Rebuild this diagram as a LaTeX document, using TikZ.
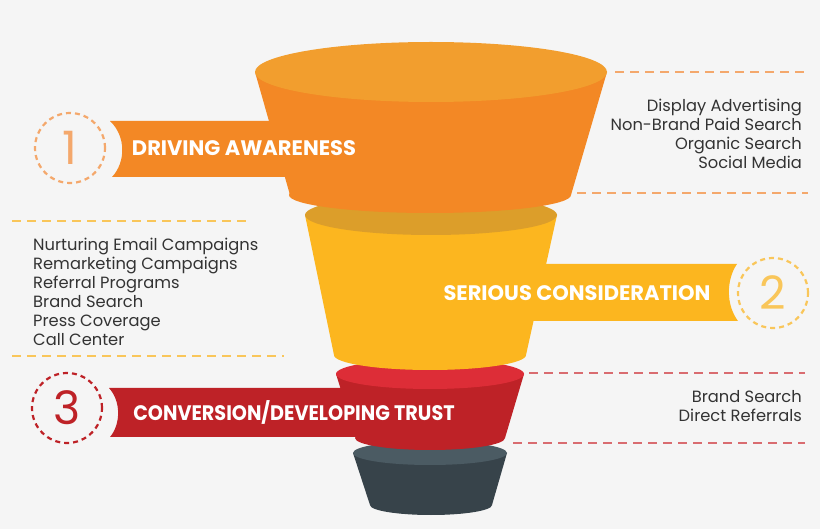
\documentclass[tikz,border=0pt]{standalone}
\usepackage{fontspec}
\setmainfont{Poppins}

\definecolor{bg}{HTML}{F5F5F5}
\definecolor{orangetop}{HTML}{F29E2E}
\definecolor{orangebody}{HTML}{F38825}
\definecolor{orangeline}{HTML}{F4A86C}
\definecolor{yellowtop}{HTML}{DC9E2A}
\definecolor{yellowbody}{HTML}{FCB61F}
\definecolor{yellowline}{HTML}{F9C65A}
\definecolor{redtop}{HTML}{DD2D37}
\definecolor{redbody}{HTML}{BE2227}
\definecolor{redline}{HTML}{D96C70}
\definecolor{graytop}{HTML}{4B5B63}
\definecolor{graybody}{HTML}{37434A}
\definecolor{textgray}{HTML}{333333}

\tikzset{
  bannertext/.style={text=white, inner sep=0pt, font=\bfseries\fontsize{21}{21}\selectfont},
  listtext/.style={text=textgray, inner sep=0pt, font=\fontsize{16.3}{19}\selectfont},
  numbercircle/.style={circle, draw, dash pattern=on 5pt off 4pt, line width=2.2pt,
    minimum size=70pt, inner sep=0pt, font=\fontsize{46}{46}\selectfont},
  guide/.style={dash pattern=on 9pt off 6pt, line width=1.3pt}
}

\begin{document}
\begin{tikzpicture}[x=1pt,y=-1pt]
  % Background
  \fill[bg] (0,0) rectangle (820,529);
  \useasboundingbox (0,0) rectangle (820,529);

  % Layer 4 (bottom)
  \fill[graybody] (353,453) -- (507,453) -- (492,505) -- (370,505) -- cycle;
  \fill[graybody] (431,505) ellipse (61pt and 10pt);
  \fill[graytop] (430,453) ellipse (77pt and 12pt);

  % Layer 3
  \fill[redbody] (109,388) -- (360,388) -- (360,437) -- (110,437)
    .. controls (121,424) and (121,401) .. (109,388);
  \fill[redbody] (336,374) -- (524,374) -- (505,438) -- (356,438) -- cycle;
  \fill[redbody] (430,438) ellipse (75pt and 12pt);
  \fill[redtop] (430,374) ellipse (94pt and 15pt);

  % Layer 2
  \fill[yellowbody] (737,264) -- (520,264) -- (520,321) -- (738,321)
    .. controls (726,305) and (726,280) .. (737,264);
  \fill[yellowbody] (305,215) -- (557,215) -- (526,355) -- (334,355) -- cycle;
  \fill[yellowbody] (430,355) ellipse (96pt and 15pt);
  \fill[yellowtop] (431,215) ellipse (126pt and 20pt);

  % Layer 1 (top)
  \fill[orangebody] (110,121) -- (300,121) -- (300,177) -- (112,177)
    .. controls (126,162) and (126,136) .. (110,121);
  \fill[orangebody] (255,72) -- (607,72) -- (571,195) -- (290,195) -- cycle;
  \fill[orangebody] (430,195) ellipse (141pt and 18pt);
  \fill[orangetop] (431,72) ellipse (176pt and 30pt);

  % Banner labels
  \node[bannertext] (awareness) at (244,148) {DRIVING AWARENESS};
  \node[bannertext] (consideration) at (577,293) {SERIOUS CONSIDERATION};
  \node[bannertext] (conversion) at (294,412) {\scalebox{0.915}[1]{CONVERSION/DEVELOPING TRUST}};

  % Step numbers
  \node[numbercircle, draw=orangeline, text=orangeline] (one) at (70,148) {1};
  \node[numbercircle, draw=yellowline, text=yellowline] (two) at (773,293) {2};
  \node[numbercircle, draw=redbody, text=redbody] (three) at (67,408) {3};

  % Guide lines
  \draw[guide, orangeline] (615,72) -- (808,72);
  \draw[guide, orangeline] (577,193) -- (808,193);
  \draw[guide, yellowline] (12,221) -- (248,221);
  \draw[guide, yellowline] (12,356) -- (284,356);
  \draw[guide, redline] (529,373) -- (805,373);
  \draw[guide, redline] (513,443) -- (805,443);

  % Channel lists
  \foreach \t [count=\i] in {Display Advertising, Non-Brand Paid Search, Organic Search, Social Media}
    \node[listtext, anchor=base east] (aware\i) at (802,93+19*\i) {\t};
  \foreach \t [count=\i] in {Nurturing Email Campaigns, Remarketing Campaigns, Referral Programs,
      Brand Search, Press Coverage, Call Center}
    \node[listtext, anchor=base west] (consider\i) at (33,232+19*\i) {\t};
  \foreach \t [count=\i] in {Brand Search, Direct Referrals}
    \node[listtext, anchor=base east] (convert\i) at (802,384+19*\i) {\t};
\end{tikzpicture}
\end{document}
